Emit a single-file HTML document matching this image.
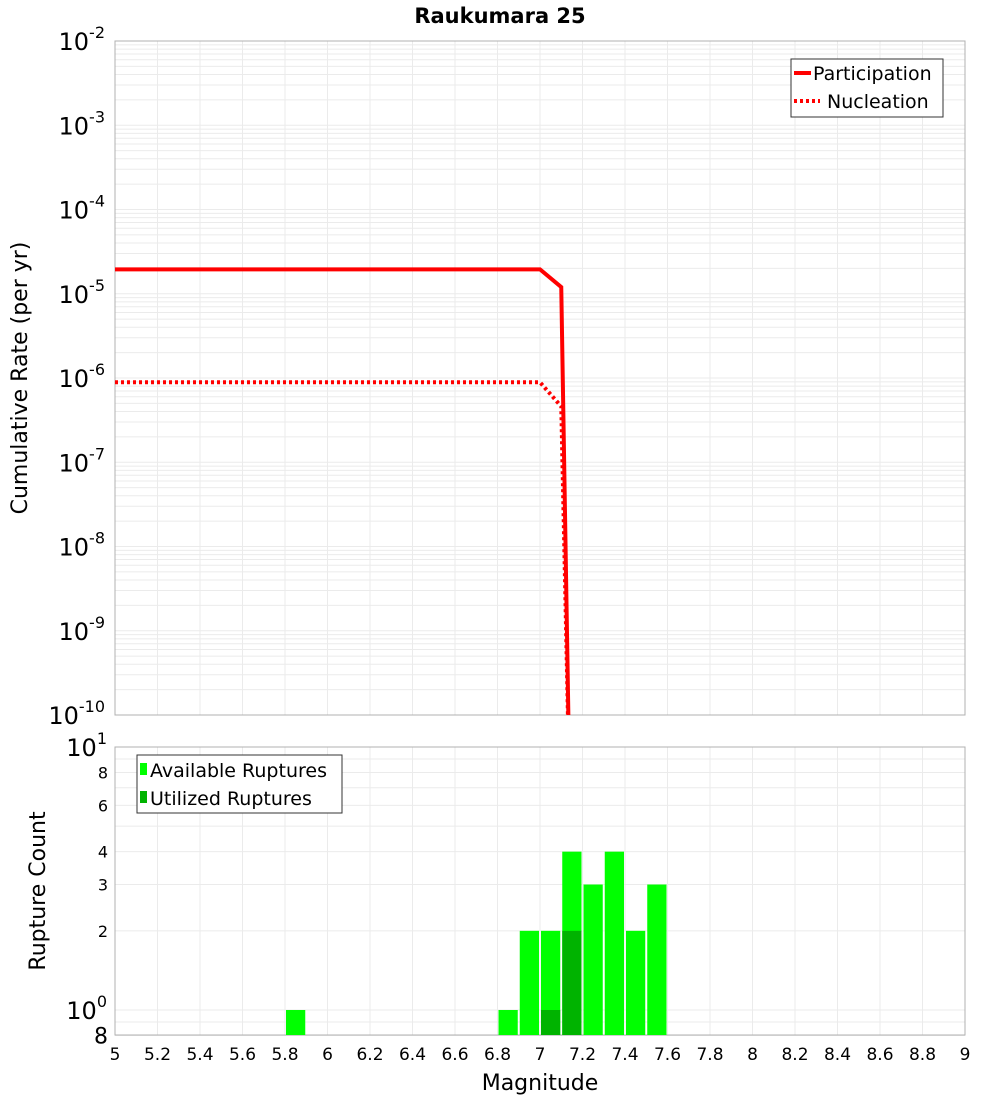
<!DOCTYPE html>
<html><head><meta charset="utf-8"><style>
body{margin:0;background:#fff;font-family:"Liberation Sans","DejaVu Sans",sans-serif}
svg text{font-family:"DejaVu Sans","Liberation Sans",sans-serif}
</style></head><body>
<svg id="c" width="1000" height="1100" xmlns="http://www.w3.org/2000/svg">
<text x="500" y="23" text-anchor="middle" font-size="21" font-weight="bold">Raukumara 25</text>
<g id="topPanel"></g>
<g id="botPanel"></g>
<text x="27" y="378" transform="rotate(-90 27 378)" text-anchor="middle" font-size="22">Cumulative Rate (per yr)</text>
<text x="45" y="891" transform="rotate(-90 45 891)" text-anchor="middle" font-size="22">Rupture Count</text>
<text x="540" y="1090" text-anchor="middle" font-size="22">Magnitude</text>
</svg>
<script>
const partMags=[5.0,7.0,7.1,7.14];
const partVals=[1.95e-5,1.95e-5,1.2e-5,1e-11];
const nuclMags=[5.0,7.0,7.1,7.14];
const nuclVals=[8.9e-7,8.9e-7,4.6e-7,1e-11];
const binMags=[5.8,6.8,6.9,7.0,7.1,7.2,7.3,7.4,7.5];
const availCounts=[1,1,2,2,4,3,4,2,3];
const usedMags=[7.0,7.1];
const usedCounts=[1,2];
const xTicks=[5,5.2,5.4,5.6,5.8,6,6.2,6.4,6.6,6.8,7,7.2,7.4,7.6,7.8,8,8.2,8.4,8.6,8.8,9];
const yExps=[-2,-3,-4,-5,-6,-7,-8,-9,-10];

const NS="http://www.w3.org/2000/svg";
const L=115,R=965,T1=41,B1=715,T2=747,B2=1035;
const X=m=>L+(m-5)/4*(R-L);
const Y1=v=>T1+(-2-Math.log10(v))*(B1-T1)/8;
const Y2=v=>1010-Math.log10(v)*263;
function mk(p,tag,a,name){const e=document.createElementNS(NS,tag);for(const k in a)e.setAttribute(k,a[k]);

p.appendChild(e);return e;}
const topG=document.getElementById('topPanel'),botG=document.getElementById('botPanel');
for(let d=-10;d<-2;d++)for(let k=1;k<10;k++){const y=Y1(k*Math.pow(10,d));mk(topG,'line',{x1:L,x2:R,y1:y,y2:y,stroke:'#ebebeb','stroke-width':1},'grid-line-y');}
xTicks.forEach(m=>{mk(topG,'line',{x1:X(m),x2:X(m),y1:T1,y2:B1,stroke:'#ebebeb'},'grid-line-x');mk(botG,'line',{x1:X(m),x2:X(m),y1:T2,y2:B2,stroke:'#ebebeb'},'grid-line-x');});
[0.8,0.9,1,2,3,4,5,6,7,8,9].forEach(v=>{const y=Y2(v);mk(botG,'line',{x1:L,x2:R,y1:y,y2:y,stroke:'#ebebeb'},'grid-line-y');});
mk(topG,'rect',{x:L,y:T1,width:R-L,height:B1-T1,fill:'none',stroke:'#b0b0b0'},'plot-frame');
mk(botG,'rect',{x:L,y:T2,width:R-L,height:B2-T2,fill:'none',stroke:'#b0b0b0'},'plot-frame');
yExps.forEach(e=>{const t=mk(topG,'text',{x:105,y:Y1(Math.pow(10,e))+9,'text-anchor':'end','font-size':24},'y-tick-label');
t.innerHTML='10<tspan dy="-12" font-size="16">'+e+'</tspan>';});
const cp=mk(topG,'clipPath',{id:'cl'},'clip');mk(cp,'rect',{x:L,y:T1,width:R-L,height:B1-T1},'clip-rect');
const pts=(ms,vs)=>ms.map((m,i)=>X(m)+','+Y1(vs[i])).join(' ');
mk(topG,'polyline',{points:pts(partMags,partVals),fill:'none',stroke:'#ff0000','stroke-width':4,'clip-path':'url(#cl)'},'participation-line');
mk(topG,'polyline',{points:pts(nuclMags,nuclVals),fill:'none',stroke:'#ff0000','stroke-width':4,'stroke-dasharray':'3 3','clip-path':'url(#cl)'},'nucleation-line');
const lg=mk(topG,'g',{},'legend');
mk(lg,'rect',{x:791,y:59,width:152,height:58,fill:'#fff',stroke:'#333'},'legend-box');
mk(lg,'line',{x1:794,x2:811,y1:73,y2:73,stroke:'#f00','stroke-width':4},'legend-swatch-participation');
mk(lg,'text',{x:813,y:80,'font-size':19},'legend-participation').textContent='Participation';
mk(lg,'line',{x1:794,x2:820,y1:101,y2:101,stroke:'#f00','stroke-width':4,'stroke-dasharray':'3 3'},'legend-swatch-nucleation');
mk(lg,'text',{x:827,y:108,'font-size':19},'legend-nucleation').textContent='Nucleation';
const bw=(X(5.1)-X(5))-2;
binMags.forEach((m,i)=>{const y=Y2(availCounts[i]);mk(botG,'rect',{x:X(m)+1,y:y,width:bw,height:B2-y,fill:'#00ff00'},'available-bar');});
usedMags.forEach((m,i)=>{const y=Y2(usedCounts[i]);mk(botG,'rect',{x:X(m)+1,y:y,width:bw,height:B2-y,fill:'#00b300'},'utilized-bar');});
[[2,'2'],[3,'3'],[4,'4'],[6,'6'],[8,'8']].forEach(([v,s])=>{mk(botG,'text',{x:108,y:Y2(v)+6,'text-anchor':'end','font-size':16},'y-tick-label').textContent=s;});
let t=mk(botG,'text',{x:107,y:Y2(10)+9,'text-anchor':'end','font-size':24},'y-tick-label');t.innerHTML='10<tspan dy="-12" font-size="16">1</tspan>';
t=mk(botG,'text',{x:107,y:Y2(1)+9,'text-anchor':'end','font-size':24},'y-tick-label');t.innerHTML='10<tspan dy="-12" font-size="16">0</tspan>';
mk(botG,'text',{x:108,y:Y2(0.8)+8,'text-anchor':'end','font-size':22},'y-tick-label').textContent='8';
const lb=mk(botG,'g',{},'legend-counts');
mk(lb,'rect',{x:137,y:755,width:205,height:58,fill:'#fff',stroke:'#333'},'legend-box');
mk(lb,'rect',{x:140,y:763,width:7,height:12,fill:'#00ff00'},'legend-swatch-available');
mk(lb,'text',{x:150,y:777,'font-size':19},'legend-available').textContent='Available Ruptures';
mk(lb,'rect',{x:140,y:791,width:7,height:12,fill:'#00b300'},'legend-swatch-utilized');
mk(lb,'text',{x:150,y:805,'font-size':19},'legend-utilized').textContent='Utilized Ruptures';
xTicks.forEach(m=>{mk(botG,'text',{x:X(m),y:1060,'text-anchor':'middle','font-size':17},'x-tick-label').textContent=String(m);});
</script>
</body></html>
